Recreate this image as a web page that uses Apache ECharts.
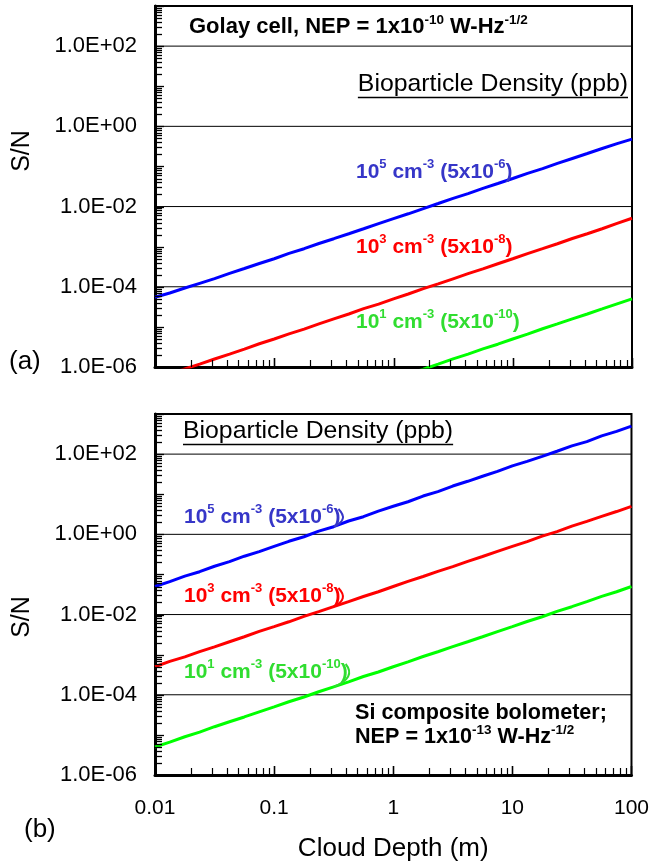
<!DOCTYPE html>
<html>
<head>
<meta charset="utf-8">
<script src="https://cdn.jsdelivr.net/npm/echarts@6/dist/echarts.min.js"></script>
<style>
  html, body { margin: 0; padding: 0; background: #fff; }
  #chart { width: 652px; height: 865px; }
</style>
</head>
<body>
<div id="chart"></div>
<script>
// Cloud depth (m), shared by every curve
const depth = [0.01, 0.0133, 0.0178, 0.0237, 0.0316, 0.0422, 0.0562, 0.075,
  0.1, 0.133, 0.178, 0.237, 0.316, 0.422, 0.562, 0.75,
  1, 1.33, 1.78, 2.37, 3.16, 4.22, 5.62, 7.5,
  10, 13.3, 17.8, 23.7, 31.6, 42.2, 56.2, 75, 100];

// (a) Golay cell, NEP = 1e-10 W/Hz^1/2 : S/N per bioparticle density
const golay1e5 = [5.5e-5, 7.0e-5, 9.3e-5, 1.22e-4, 1.6e-4, 2.15e-4, 2.85e-4, 3.8e-4,
  5.0e-4, 6.8e-4, 8.9e-4, 1.2e-3, 1.58e-3, 2.1e-3, 2.8e-3, 3.75e-3,
  5.0e-3, 6.6e-3, 8.9e-3, 1.19e-2, 1.6e-2, 2.1e-2, 2.85e-2, 3.75e-2,
  5.0e-2, 6.7e-2, 8.8e-2, 0.119, 0.158, 0.21, 0.28, 0.37, 0.48];
const golay1e3 = [5.0e-7, 6.6e-7, 9.0e-7, 1.18e-6, 1.58e-6, 2.1e-6, 2.8e-6, 3.8e-6,
  5.0e-6, 6.7e-6, 8.8e-6, 1.19e-5, 1.58e-5, 2.1e-5, 2.85e-5, 3.7e-5,
  5.0e-5, 6.6e-5, 9.0e-5, 1.18e-4, 1.58e-4, 2.12e-4, 2.8e-4, 3.75e-4,
  5.0e-4, 6.7e-4, 8.9e-4, 1.18e-3, 1.6e-3, 2.1e-3, 2.8e-3, 3.8e-3, 5.1e-3];
const golay1e1 = [5.0e-9, 6.7e-9, 8.9e-9, 1.18e-8, 1.6e-8, 2.1e-8, 2.8e-8, 3.75e-8,
  5.0e-8, 6.6e-8, 8.9e-8, 1.19e-7, 1.58e-7, 2.1e-7, 2.8e-7, 3.75e-7,
  5.0e-7, 6.7e-7, 8.8e-7, 1.18e-6, 1.6e-6, 2.1e-6, 2.82e-6, 3.7e-6,
  5.0e-6, 6.6e-6, 9.0e-6, 1.19e-5, 1.58e-5, 2.1e-5, 2.8e-5, 3.75e-5, 5.0e-5];

// (b) Si composite bolometer, NEP = 1e-13 W/Hz^1/2
const bolo1e5 = [0.05, 0.066, 0.091, 0.117, 0.16, 0.208, 0.285, 0.37,
  0.5, 0.67, 0.87, 1.2, 1.55, 2.15, 2.75, 3.8,
  5.0, 6.5, 9.0, 11.6, 16, 21, 28, 37,
  51, 66, 88, 118, 160, 205, 285, 370, 500];
const bolo1e3 = [5.0e-4, 6.8e-4, 8.8e-4, 1.19e-3, 1.57e-3, 2.1e-3, 2.8e-3, 3.8e-3,
  5.0e-3, 6.6e-3, 9.0e-3, 1.18e-2, 1.58e-2, 2.1e-2, 2.82e-2, 3.7e-2,
  5.0e-2, 6.7e-2, 8.9e-2, 0.119, 0.157, 0.212, 0.28, 0.375,
  0.5, 0.66, 0.9, 1.17, 1.6, 2.1, 2.8, 3.7, 5.0];
const bolo1e1 = [5.0e-6, 6.6e-6, 9.0e-6, 1.17e-5, 1.6e-5, 2.12e-5, 2.8e-5, 3.75e-5,
  5.0e-5, 6.7e-5, 8.8e-5, 1.19e-4, 1.57e-4, 2.1e-4, 2.85e-4, 3.7e-4,
  5.0e-4, 6.6e-4, 9.0e-4, 1.18e-3, 1.58e-3, 2.1e-3, 2.8e-3, 3.75e-3,
  5.0e-3, 6.7e-3, 8.8e-3, 1.2e-2, 1.57e-2, 2.1e-2, 2.85e-2, 3.7e-2, 5.0e-2];

// Axis ranges and labelled grid levels
const X_MIN = 0.01, X_MAX = 100;
const Y_MIN = 1e-6, Y_MAX = 1e3;
const gridLevels = [1e2, 1, 1e-2, 1e-4];
const xTickLabels = ['0.01', '0.1', '1', '10', '100'];

const FONT = '"Liberation Sans", Arial, sans-serif';
const LINE_COLORS = { b: '#0000ff', r: '#ff0000', g: '#00ff00' };
const TEXT_COLORS = { b: '#3636c8', r: '#ff0000', g: '#30dd30' };

// Series label text: base/superscript segments
const labelSegs = {
  b: [['10', 'n'], ['5', 's'], [' cm', 'n'], ['-3', 's'], [' (5x10', 'n'], ['-6', 's'], [')', 'n']],
  r: [['10', 'n'], ['3', 's'], [' cm', 'n'], ['-3', 's'], [' (5x10', 'n'], ['-8', 's'], [')', 'n']],
  g: [['10', 'n'], ['1', 's'], [' cm', 'n'], ['-3', 's'], [' (5x10', 'n'], ['-10', 's'], [')', 'n']]
};
const titleSegs = [['Golay cell, NEP = 1x10', 'n'], ['-10', 's'], [' W-Hz', 'n'], ['-1/2', 's']];
const siSegs = [['NEP = 1x10', 'n'], ['-13', 's'], [' W-Hz', 'n'], ['-1/2', 's']];

const BOLD_N = 21, BOLD_S = 13;

const measureCtx = document.createElement('canvas').getContext('2d');
function textWidth(str, size, bold) {
  measureCtx.font = (bold ? 'bold ' : '') + size + 'px ' + FONT;
  return measureCtx.measureText(str).width;
}
function segsWidth(segs, nSize, sSize) {
  return segs.reduce((w, s) => w + textWidth(s[0], s[1] === 'n' ? nSize : sSize, true), 0);
}
function richText(segs) {
  return segs.map(s => '{' + s[1] + '|' + s[0] + '}').join('');
}
function richStyles(color, nSize, sSize) {
  return {
    n: { fontFamily: FONT, fontWeight: 'bold', fontSize: nSize, lineHeight: 28, fill: color, color: color },
    s: { fontFamily: FONT, fontWeight: 'bold', fontSize: sSize, lineHeight: 14, verticalAlign: 'top', fill: color, color: color }
  };
}
function richLabel(segs, color, x, y, nSize, sSize) {
  return {
    type: 'text', x: x, y: y, z: 50,
    style: { text: richText(segs), rich: richStyles(color, nSize || BOLD_N, sSize || BOLD_S), align: 'left', verticalAlign: 'middle', fill: color }
  };
}

function yLabel(v) {
  const e = Math.round(Math.log10(v));
  if (e % 2 !== 0) return '';
  const a = Math.abs(e);
  return '1.0E' + (e < 0 ? '-' : '+') + (a < 10 ? '0' + a : '' + a);
}
function xLabel(v) {
  const e = Math.round(Math.log10(v));
  return xTickLabels[e + 2] || '';
}

// Log-style tick positions (1..9 x 10^e)
function logTicks(minExp, maxExp) {
  const out = [];
  for (let e = minExp; e < maxExp; e++) {
    for (let m = 1; m < 10; m++) out.push([m * Math.pow(10, e), m === 1 ? 1 : 0]);
  }
  out.push([Math.pow(10, maxExp), 1]);
  return out;
}
const yTicks = logTicks(-6, 3);
const xTicks = logTicks(-2, 2);

function crisp(v) { return Math.round(v) + 0.5; }

function tickSeries(gi) {
  return [
    {
      type: 'custom', xAxisIndex: gi, yAxisIndex: gi, silent: true, z: 20, clip: false,
      data: yTicks.map(t => [X_MIN, t[0], t[1]]),
      encode: { x: 0, y: 1 },
      renderItem: function (params, api) {
        const p = api.coord([api.value(0), api.value(1)]);
        const len = api.value(2) ? 9 : 7;
        const y = crisp(p[1]);
        return { type: 'line', z2: 10, shape: { x1: p[0], y1: y, x2: p[0] + len, y2: y },
          style: { stroke: '#000', lineWidth: 1.3 } };
      }
    },
    {
      type: 'custom', xAxisIndex: gi, yAxisIndex: gi, silent: true, z: 20, clip: false,
      data: xTicks.map(t => [t[0], Y_MIN, t[1]]),
      encode: { x: 0, y: 1 },
      renderItem: function (params, api) {
        const p = api.coord([api.value(0), api.value(1)]);
        const len = api.value(2) ? 9 : 7;
        const x = crisp(p[0]);
        return { type: 'line', z2: 10, shape: { x1: x, y1: p[1], x2: x, y2: p[1] - len },
          style: { stroke: '#000', lineWidth: api.value(2) ? 1.6 : 1.2 } };
      }
    },
    {
      type: 'custom', xAxisIndex: gi, yAxisIndex: gi, silent: true, z: 1, clip: false,
      data: gridLevels.map(v => [X_MIN, v]),
      encode: { x: 0, y: 1 },
      renderItem: function (params, api) {
        const p0 = api.coord([X_MIN, api.value(1)]);
        const p1 = api.coord([X_MAX, api.value(1)]);
        return { type: 'line', shape: { x1: p0[0], y1: p0[1], x2: p1[0], y2: p1[1] },
          style: { stroke: '#000', lineWidth: 1 } };
      }
    }
  ];
}

function curve(gi, values, key) {
  return {
    type: 'line', xAxisIndex: gi, yAxisIndex: gi, z: 3,
    data: depth.map((d, i) => [d, values[i]]),
    showSymbol: false, symbol: 'none', smooth: false, clip: true,
    lineStyle: { color: LINE_COLORS[key], width: 3 },
    itemStyle: { color: LINE_COLORS[key] }
  };
}

function xAxisDef(gi, showLabels) {
  return {
    gridIndex: gi, type: 'log', logBase: 10, min: X_MIN, max: X_MAX,
    axisLine: { onZero: false, lineStyle: { color: '#000', width: 3 } },
    axisTick: { show: false }, minorTick: { show: false },
    splitLine: { show: false }, minorSplitLine: { show: false },
    axisLabel: { show: showLabels, formatter: xLabel, fontFamily: FONT, fontSize: 21, color: '#000', margin: 23 },
    name: showLabels ? 'Cloud Depth (m)' : '',
    nameLocation: 'middle', nameGap: 61,
    nameTextStyle: { fontFamily: FONT, fontSize: 26, color: '#000' }
  };
}
function yAxisDef(gi) {
  return {
    gridIndex: gi, type: 'log', logBase: 10, min: Y_MIN, max: Y_MAX,
    axisLine: { onZero: false, lineStyle: { color: '#000', width: 3 } },
    axisTick: { show: false }, minorTick: { show: false },
    splitLine: { show: false }, minorSplitLine: { show: false },
    axisLabel: { formatter: yLabel, fontFamily: FONT, fontSize: 22, color: '#000', margin: 18 }
  };
}

const chart = echarts.init(document.getElementById('chart'), null, { renderer: 'canvas' });

const option = {
  animation: false,
  backgroundColor: '#fff',
  grid: [
    { left: 155, top: 6, width: 477, height: 361, show: true, borderColor: '#000', borderWidth: 2, backgroundColor: '#fff' },
    { left: 155, top: 414, width: 477, height: 361, show: true, borderColor: '#000', borderWidth: 2, backgroundColor: '#fff' }
  ],
  xAxis: [xAxisDef(0, false), xAxisDef(1, true)],
  yAxis: [yAxisDef(0), yAxisDef(1)],
  series: [].concat(
    tickSeries(0), tickSeries(1),
    [curve(0, golay1e5, 'b'), curve(0, golay1e3, 'r'), curve(0, golay1e1, 'g'),
     curve(1, bolo1e5, 'b'), curve(1, bolo1e3, 'r'), curve(1, bolo1e1, 'g')]
  )
};
chart.setOption(option);

// Annotation texts
const headSize = 24.8;
const headText = 'Bioparticle Density (ppb)';
const headW = textWidth(headText, headSize, false);
const graphics = [];

function plainText(str, x, y, font, extra) {
  return Object.assign({
    type: 'text', x: x, y: y, z: 50,
    style: { text: str, font: font, fill: '#000', align: 'left', verticalAlign: 'middle' }
  }, extra || {});
}

// panel (a)
graphics.push(richLabel(titleSegs, '#000', 189, 27, 22, 13.5));
graphics.push(plainText(headText, 628 - headW, 84, headSize + 'px ' + FONT));
graphics.push({ type: 'line', z: 50, shape: { x1: 628 - headW, y1: 97.5, x2: 628, y2: 97.5 }, style: { stroke: '#000', lineWidth: 1.5 } });
graphics.push(richLabel(labelSegs.b, TEXT_COLORS.b, 356, 172));
graphics.push(richLabel(labelSegs.r, TEXT_COLORS.r, 356, 247));
graphics.push(richLabel(labelSegs.g, TEXT_COLORS.g, 356, 322));
graphics.push({ type: 'text', x: 22, y: 151, z: 50, rotation: Math.PI / 2,
  style: { text: 'S/N', font: '25px ' + FONT, fill: '#000', align: 'center', verticalAlign: 'middle' } });
graphics.push(plainText('(a)', 9, 362, '26px ' + FONT));

// panel (b)
graphics.push(plainText(headText, 183, 431, headSize + 'px ' + FONT));
graphics.push({ type: 'line', z: 50, shape: { x1: 183, y1: 444.5, x2: 183 + headW, y2: 444.5 }, style: { stroke: '#000', lineWidth: 1.5 } });
const bLabels = [['b', 517, bolo1e5], ['r', 596, bolo1e3], ['g', 672, bolo1e1]];
const anchorIdx = 12;
bLabels.forEach(function (L) {
  const key = L[0], y = L[1];
  graphics.push(richLabel(labelSegs[key], TEXT_COLORS[key], 184, y));
  const xEnd = 184 + segsWidth(labelSegs[key], BOLD_N, BOLD_S);
  const p = chart.convertToPixel({ gridIndex: 1 }, [depth[anchorIdx], L[2][anchorIdx]]);
  graphics.push({
    type: 'bezierCurve', z: 50,
    shape: { x1: xEnd - 2, y1: y - 8, cpx1: xEnd + 9, cpy1: (y + p[1]) / 2 - 2, x2: p[0], y2: p[1] },
    style: { stroke: TEXT_COLORS[key], lineWidth: 2, fill: null }
  });
});
graphics.push(plainText('Si composite bolometer;', 355, 713, 'bold 21.6px ' + FONT));
graphics.push(richLabel(siSegs, '#000', 355, 737, 21.6, 13.5));
graphics.push({ type: 'text', x: 22, y: 617, z: 50, rotation: Math.PI / 2,
  style: { text: 'S/N', font: '25px ' + FONT, fill: '#000', align: 'center', verticalAlign: 'middle' } });
graphics.push(plainText('(b)', 24, 830, '26px ' + FONT));

chart.setOption({ graphic: { elements: graphics } });
</script>
</body>
</html>
